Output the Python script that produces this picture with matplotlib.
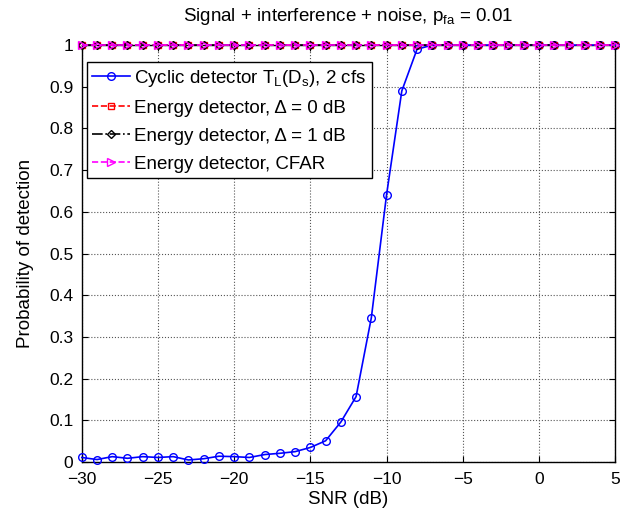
import numpy as np
import matplotlib
matplotlib.use("Agg")
import matplotlib.pyplot as plt

plt.rcParams['font.family'] = ['Liberation Sans', 'DejaVu Sans']
plt.rcParams['mathtext.fontset'] = 'custom'
plt.rcParams['mathtext.rm'] = 'Liberation Sans'
plt.rcParams['mathtext.it'] = 'Liberation Sans:italic'

snr = list(range(-30, 6))
cyclic = [0.011, 0.006, 0.013, 0.009, 0.013, 0.011, 0.013, 0.005, 0.008, 0.014,
          0.013, 0.011, 0.018, 0.021, 0.025, 0.035, 0.051, 0.096, 0.157, 0.346,
          0.641, 0.890, 0.990, 1.0, 1.0, 1.0, 1.0, 1.0, 1.0, 1.0,
          1.0, 1.0, 1.0, 1.0, 1.0, 1.0]
energy_0db = [1.0] * len(snr)
energy_1db = [1.0] * len(snr)
energy_cfar = [1.0] * len(snr)

labels = [r"Cyclic detector T$_\mathrm{L}$(D$_\mathrm{s}$), 2 cfs",
          "Energy detector, \u0394 = 0 dB",
          "Energy detector, \u0394 = 1 dB",
          "Energy detector, CFAR"]

fig = plt.figure(figsize=(6.29, 5.18), dpi=100)
ax = fig.add_axes([0.130, 0.108, 0.848, 0.805])

ax.plot(snr, cyclic, color='#0000ff', linestyle='-', marker='o', markersize=5.5,
        markerfacecolor='none', linewidth=1.2, clip_on=False, label=labels[0], zorder=3)
ax.plot(snr, energy_0db, color='#ff0000', linestyle='--', marker='s', markersize=4.5,
        markerfacecolor='none', linewidth=1.2, clip_on=False, label=labels[1], zorder=4)
ax.plot(snr, energy_1db, color='black', linestyle='-.', marker='D', markersize=4.5,
        markerfacecolor='none', linewidth=1.2, clip_on=False, label=labels[2], zorder=5)
ax.plot(snr, energy_cfar, color='#ff00ff', linestyle='--', marker='>', markersize=5.5,
        markerfacecolor='none', linewidth=1.2, clip_on=False, label=labels[3], zorder=6)

ax.set_xlim(-30, 5)
ax.set_ylim(0, 1)
ax.set_xticks(range(-30, 6, 5))
ax.set_yticks(np.round(np.arange(0, 1.01, 0.1), 1))
ax.set_yticklabels(['0', '0.1', '0.2', '0.3', '0.4', '0.5', '0.6', '0.7', '0.8', '0.9', '1'])
ax.grid(True, linestyle=':', color='#555555', linewidth=0.8)
ax.tick_params(direction='in', top=True, right=True, labelsize=12.5, length=4)
ax.tick_params(axis='x', pad=7)
ax.tick_params(axis='y', pad=6)
for s in ax.spines.values():
    s.set_linewidth(1.0)

ax.set_xlabel('SNR (dB)', fontsize=13.5, labelpad=3)
ax.set_ylabel('Probability of detection', fontsize=13.5, labelpad=11)
ax.set_title(r'Signal + interference + noise, p$_\mathrm{fa}$ = 0.01', fontsize=13.5, pad=17)

leg = ax.legend(loc='upper left', bbox_to_anchor=(0.009, 0.959), fontsize=13.5,
                frameon=True, fancybox=False, edgecolor='black', framealpha=1,
                handlelength=2.0, borderpad=0.3, labelspacing=0.58, handletextpad=0.25,
                borderaxespad=0.0)
leg.get_frame().set_linewidth(1.0)

fig.savefig('out.png', dpi=100)
